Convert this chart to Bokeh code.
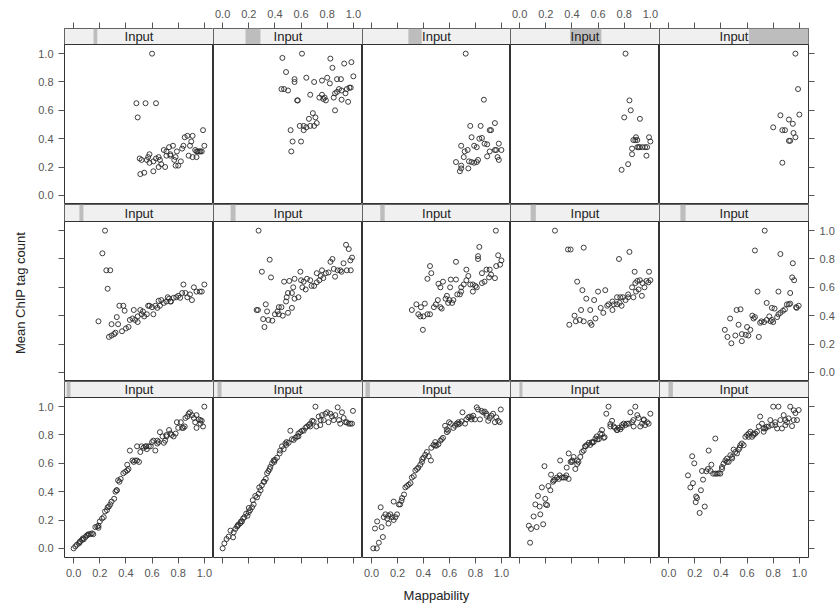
from bokeh.plotting import figure
from bokeh.layouts import gridplot
from bokeh.models import (Range1d, LinearAxis, FixedTicker, PrintfTickFormatter,
                          Span, Label, ColumnDataSource)
from bokeh.embed import file_html
from bokeh.resources import INLINE

# ---------------- data ----------------
tick_values = [0.0, 0.2, 0.4, 0.6, 0.8, 1.0]
strip_text = "Input"
x_title = "Mappability"
y_title = "Mean ChIP tag count"

# (mappability, mean ChIP tag count) per panel, rows top -> bottom, columns left -> right
top_1 = [(0.60,1.00),(0.48,0.65),(0.55,0.65),(0.63,0.65),(0.49,0.55),(0.505,0.26),(0.52,0.25),(0.51,0.15),(0.54,0.16),(0.58,0.23),(0.58,0.29),(0.61,0.17),(0.63,0.26),(0.65,0.27),(0.66,0.25),(0.67,0.22),(0.69,0.32),(0.70,0.20),(0.71,0.31),(0.73,0.34),(0.74,0.28),(0.76,0.35),(0.77,0.25),(0.78,0.27),(0.79,0.31),(0.80,0.21),(0.82,0.24),(0.83,0.33),(0.84,0.35),(0.85,0.41),(0.87,0.42),(0.88,0.28),(0.89,0.35),(0.90,0.38),(0.91,0.42),(0.91,0.27),(0.93,0.32),(0.94,0.27),(0.95,0.31),(0.96,0.31),(0.97,0.31),(0.98,0.31),(0.99,0.46),(1.00,0.35),(0.56,0.25),(0.57,0.27),(0.61,0.24),(0.65,0.20),(0.71,0.28),(0.74,0.29),(0.78,0.21),(0.94,0.31)]
top_2 = [(0.607,1.00),(0.457,0.97),(0.824,0.965),(0.485,0.87),(0.93,0.93),(0.985,0.94),(0.84,0.90),(0.55,0.82),(0.64,0.83),(0.70,0.80),(0.76,0.81),(0.80,0.83),(0.82,0.79),(0.875,0.82),(0.905,0.82),(1.00,0.84),(0.45,0.75),(0.47,0.75),(0.50,0.74),(0.55,0.80),(0.57,0.67),(0.575,0.67),(0.67,0.71),(0.74,0.69),(0.76,0.71),(0.78,0.69),(0.79,0.67),(0.77,0.68),(0.85,0.69),(0.86,0.72),(0.875,0.73),(0.89,0.75),(0.91,0.74),(0.94,0.72),(0.95,0.75),(0.97,0.76),(0.98,0.76),(0.91,0.675),(0.96,0.66),(0.86,0.60),(0.69,0.58),(0.71,0.55),(0.66,0.54),(0.72,0.51),(0.70,0.49),(0.67,0.49),(0.64,0.48),(0.62,0.49),(0.59,0.49),(0.62,0.46),(0.52,0.46),(0.535,0.38),(0.60,0.38),(0.525,0.31)]
top_3 = [(0.725,1.00),(0.865,0.675),(0.76,0.49),(0.84,0.49),(0.91,0.46),(0.92,0.46),(0.95,0.51),(0.77,0.41),(0.83,0.40),(0.85,0.405),(0.87,0.365),(0.89,0.36),(0.79,0.35),(0.81,0.34),(0.69,0.35),(0.98,0.365),(0.717,0.31),(0.74,0.32),(0.71,0.27),(0.89,0.275),(0.91,0.31),(0.95,0.32),(0.96,0.32),(1.00,0.32),(0.97,0.27),(0.98,0.25),(0.75,0.24),(0.77,0.235),(0.79,0.23),(0.81,0.235),(0.82,0.25),(0.65,0.235),(0.69,0.21),(0.68,0.17),(0.69,0.19),(0.745,0.19)]
top_4 = [(0.81,1.00),(0.84,0.67),(0.85,0.60),(0.80,0.55),(0.92,0.54),(0.885,0.39),(0.90,0.39),(0.86,0.33),(0.86,0.29),(0.90,0.34),(0.91,0.34),(0.92,0.34),(0.94,0.34),(0.96,0.34),(0.99,0.41),(1.00,0.38),(0.975,0.34),(0.97,0.28),(0.78,0.18),(0.83,0.22),(0.87,0.39),(0.89,0.41)]
top_5 = [(0.97,1.00),(0.99,0.75),(0.855,0.565),(0.92,0.535),(0.95,0.505),(1.00,0.57),(0.80,0.48),(0.87,0.46),(0.89,0.46),(0.955,0.44),(0.97,0.41),(0.92,0.385),(0.93,0.385),(0.87,0.23)]

mid_1 = [(0.24,1.00),(0.22,0.84),(0.25,0.72),(0.28,0.72),(0.26,0.59),(0.19,0.36),(0.27,0.25),(0.29,0.26),(0.31,0.27),(0.32,0.28),(0.29,0.34),(0.33,0.39),(0.35,0.47),(0.38,0.47),(0.39,0.435),(0.34,0.34),(0.37,0.29),(0.40,0.31),(0.42,0.32),(0.43,0.37),(0.45,0.38),(0.47,0.37),(0.49,0.395),(0.51,0.44),(0.49,0.355),(0.52,0.41),(0.54,0.395),(0.56,0.41),(0.58,0.47),(0.60,0.46),(0.61,0.41),(0.625,0.47),(0.64,0.455),(0.66,0.47),(0.67,0.51),(0.69,0.49),(0.71,0.50),(0.73,0.52),(0.745,0.50),(0.765,0.526),(0.785,0.53),(0.80,0.54),(0.815,0.526),(0.84,0.62),(0.83,0.56),(0.855,0.56),(0.87,0.53),(0.89,0.55),(0.905,0.51),(0.92,0.60),(0.94,0.57),(0.965,0.57),(0.98,0.57),(1.00,0.62),(0.57,0.47),(0.46,0.44),(0.53,0.43),(0.65,0.505),(0.72,0.53),(0.74,0.50)]
mid_2 = [(0.275,1.00),(0.36,0.795),(0.30,0.71),(0.37,0.67),(0.26,0.44),(0.27,0.44),(0.33,0.48),(0.34,0.43),(0.31,0.376),(0.35,0.37),(0.38,0.365),(0.32,0.32),(0.40,0.41),(0.42,0.43),(0.43,0.46),(0.45,0.46),(0.43,0.41),(0.46,0.40),(0.50,0.42),(0.53,0.455),(0.485,0.50),(0.50,0.56),(0.47,0.64),(0.51,0.645),(0.55,0.66),(0.53,0.56),(0.55,0.52),(0.58,0.53),(0.595,0.71),(0.60,0.65),(0.62,0.64),(0.61,0.60),(0.635,0.585),(0.645,0.66),(0.67,0.65),(0.68,0.61),(0.70,0.61),(0.72,0.70),(0.72,0.635),(0.74,0.65),(0.76,0.72),(0.77,0.665),(0.79,0.70),(0.81,0.705),(0.825,0.78),(0.84,0.80),(0.85,0.73),(0.86,0.675),(0.88,0.72),(0.90,0.72),(0.91,0.71),(0.925,0.77),(0.944,0.90),(0.965,0.87),(0.977,0.79),(0.99,0.81),(0.95,0.72),(0.98,0.72),(0.54,0.60),(0.49,0.53),(0.75,0.68)]
mid_3 = [(0.957,1.00),(0.83,0.885),(0.82,0.82),(0.82,0.80),(0.975,0.826),(1.00,0.79),(0.99,0.76),(0.96,0.75),(0.65,0.78),(0.45,0.75),(0.46,0.70),(0.43,0.66),(0.73,0.725),(0.85,0.70),(0.885,0.725),(0.91,0.725),(0.92,0.69),(0.905,0.67),(0.95,0.665),(0.87,0.64),(0.85,0.63),(0.745,0.68),(0.73,0.65),(0.71,0.62),(0.76,0.62),(0.78,0.62),(0.80,0.61),(0.81,0.60),(0.78,0.57),(0.61,0.655),(0.65,0.655),(0.55,0.64),(0.515,0.625),(0.53,0.60),(0.605,0.60),(0.69,0.60),(0.69,0.57),(0.68,0.55),(0.66,0.55),(0.58,0.54),(0.57,0.52),(0.60,0.51),(0.63,0.51),(0.62,0.49),(0.59,0.49),(0.51,0.51),(0.495,0.48),(0.48,0.46),(0.41,0.485),(0.38,0.46),(0.345,0.48),(0.31,0.44),(0.54,0.45),(0.53,0.46),(0.36,0.41),(0.375,0.395),(0.40,0.395),(0.43,0.41),(0.45,0.41),(0.395,0.30)]
mid_4 = [(0.27,1.00),(0.37,0.867),(0.39,0.867),(0.49,0.88),(0.44,0.64),(0.48,0.58),(0.51,0.52),(0.38,0.336),(0.43,0.36),(0.42,0.40),(0.47,0.44),(0.46,0.37),(0.49,0.36),(0.54,0.35),(0.58,0.38),(0.54,0.44),(0.57,0.51),(0.60,0.57),(0.655,0.58),(0.55,0.335),(0.62,0.455),(0.64,0.42),(0.67,0.47),(0.68,0.48),(0.71,0.50),(0.72,0.48),(0.745,0.53),(0.77,0.53),(0.79,0.53),(0.81,0.51),(0.83,0.55),(0.86,0.60),(0.885,0.63),(0.90,0.645),(0.92,0.65),(0.94,0.63),(0.955,0.60),(0.99,0.71),(1.00,0.65),(0.76,0.80),(0.84,0.85),(0.88,0.71),(0.71,0.44),(0.745,0.48),(0.765,0.49),(0.78,0.47),(0.83,0.53),(0.89,0.57),(0.91,0.585),(0.935,0.54),(0.87,0.53),(0.97,0.645),(0.985,0.635)]
mid_5 = [(0.735,1.00),(0.66,0.86),(0.855,0.835),(0.95,0.77),(0.945,0.67),(0.96,0.65),(0.68,0.57),(0.84,0.57),(0.93,0.56),(0.43,0.30),(0.47,0.38),(0.52,0.44),(0.55,0.445),(0.535,0.336),(0.45,0.25),(0.48,0.205),(0.51,0.26),(0.56,0.22),(0.56,0.27),(0.59,0.265),(0.60,0.32),(0.625,0.30),(0.61,0.26),(0.69,0.25),(0.64,0.40),(0.65,0.38),(0.66,0.39),(0.70,0.35),(0.71,0.36),(0.73,0.355),(0.75,0.37),(0.77,0.395),(0.78,0.36),(0.79,0.37),(0.80,0.355),(0.75,0.49),(0.79,0.455),(0.81,0.45),(0.83,0.39),(0.84,0.41),(0.855,0.42),(0.875,0.435),(0.89,0.445),(0.905,0.48),(0.92,0.48),(0.93,0.485),(0.98,0.455),(0.995,0.47),(0.975,0.46)]

bot_1 = [(0.00,0.00),(0.013,0.014),(0.025,0.026),(0.04,0.035),(0.05,0.05),(0.064,0.06),(0.077,0.064),(0.09,0.08),(0.10,0.09),(0.115,0.10),(0.13,0.10),(0.14,0.106),(0.15,0.10),(0.166,0.15),(0.18,0.154),(0.19,0.16),(0.20,0.19),(0.217,0.21),(0.23,0.22),(0.24,0.26),(0.255,0.27),(0.27,0.295),(0.28,0.31),(0.29,0.33),(0.31,0.35),(0.32,0.40),(0.33,0.41),(0.34,0.48),(0.35,0.47),(0.36,0.49),(0.38,0.53),(0.395,0.54),(0.41,0.59),(0.42,0.56),(0.43,0.69),(0.45,0.62),(0.46,0.61),(0.47,0.62),(0.485,0.72),(0.50,0.61),(0.51,0.68),(0.52,0.72),(0.535,0.71),(0.55,0.72),(0.56,0.70),(0.575,0.72),(0.59,0.72),(0.60,0.75),(0.61,0.76),(0.625,0.69),(0.64,0.76),(0.65,0.75),(0.66,0.82),(0.68,0.79),(0.69,0.745),(0.70,0.76),(0.71,0.79),(0.73,0.835),(0.74,0.81),(0.75,0.80),(0.765,0.79),(0.78,0.81),(0.79,0.89),(0.80,0.85),(0.82,0.89),(0.83,0.85),(0.84,0.85),(0.855,0.92),(0.87,0.93),(0.88,0.95),(0.89,0.96),(0.905,0.94),(0.92,0.92),(0.93,0.89),(0.94,0.85),(0.957,0.91),(0.97,0.88),(0.98,0.90),(0.99,0.86),(1.00,1.00),(0.046,0.043),(0.07,0.07),(0.107,0.095),(0.19,0.145),(0.26,0.29),(0.33,0.41),(0.41,0.55),(0.485,0.62),(0.556,0.72),(0.64,0.74),(0.71,0.80),(0.85,0.86),(0.94,0.94),(0.97,0.905)]
bot_2 = [(0.00,0.00),(0.013,0.035),(0.03,0.066),(0.046,0.083),(0.06,0.125),(0.08,0.078),(0.097,0.137),(0.11,0.154),(0.12,0.168),(0.135,0.177),(0.148,0.19),(0.156,0.21),(0.166,0.22),(0.18,0.245),(0.19,0.23),(0.20,0.255),(0.21,0.27),(0.225,0.29),(0.237,0.31),(0.25,0.37),(0.263,0.36),(0.275,0.385),(0.29,0.41),(0.30,0.445),(0.314,0.47),(0.33,0.49),(0.34,0.53),(0.35,0.545),(0.365,0.575),(0.378,0.60),(0.39,0.62),(0.40,0.625),(0.416,0.64),(0.44,0.69),(0.454,0.72),(0.467,0.70),(0.48,0.74),(0.49,0.75),(0.505,0.745),(0.518,0.83),(0.53,0.77),(0.543,0.765),(0.556,0.78),(0.57,0.79),(0.58,0.81),(0.594,0.82),(0.607,0.83),(0.62,0.83),(0.633,0.85),(0.645,0.86),(0.66,0.87),(0.67,0.88),(0.685,0.90),(0.696,0.895),(0.71,1.00),(0.717,0.86),(0.735,0.93),(0.747,0.87),(0.76,0.94),(0.773,0.905),(0.786,0.95),(0.80,0.96),(0.81,0.89),(0.824,0.95),(0.837,0.93),(0.85,0.905),(0.862,0.94),(0.88,0.995),(0.89,0.905),(0.90,0.88),(0.913,0.96),(0.926,0.92),(0.94,0.89),(0.95,0.89),(0.964,0.88),(0.977,0.88),(0.99,0.88),(0.997,0.97),(0.084,0.113),(0.115,0.16),(0.14,0.19),(0.20,0.285),(0.23,0.34),(0.28,0.43),(0.318,0.47),(0.36,0.56),(0.395,0.61),(0.436,0.67),(0.487,0.73),(0.58,0.79),(0.67,0.86),(0.75,0.905)]
bot_3 = [(0.013,0.00),(0.04,0.00),(0.056,0.04),(0.087,0.08),(0.026,0.14),(0.043,0.19),(0.077,0.15),(0.07,0.29),(0.094,0.22),(0.107,0.24),(0.12,0.21),(0.13,0.23),(0.145,0.24),(0.158,0.22),(0.17,0.20),(0.184,0.22),(0.196,0.24),(0.13,0.175),(0.17,0.33),(0.21,0.31),(0.22,0.31),(0.235,0.355),(0.25,0.38),(0.26,0.43),(0.286,0.45),(0.30,0.46),(0.31,0.50),(0.325,0.51),(0.337,0.55),(0.36,0.57),(0.375,0.59),(0.39,0.63),(0.40,0.64),(0.413,0.66),(0.426,0.68),(0.44,0.65),(0.457,0.62),(0.46,0.71),(0.477,0.73),(0.49,0.75),(0.50,0.725),(0.515,0.735),(0.53,0.76),(0.54,0.77),(0.55,0.78),(0.566,0.865),(0.58,0.84),(0.59,0.83),(0.597,0.89),(0.61,0.88),(0.63,0.85),(0.643,0.865),(0.656,0.88),(0.668,0.89),(0.68,0.88),(0.694,0.896),(0.70,0.96),(0.72,0.88),(0.73,0.91),(0.745,0.925),(0.757,0.93),(0.77,0.91),(0.783,0.936),(0.796,0.91),(0.81,0.995),(0.82,0.98),(0.835,0.91),(0.847,0.97),(0.86,0.96),(0.872,0.965),(0.885,0.936),(0.898,0.90),(0.91,0.92),(0.923,0.936),(0.936,0.95),(0.95,0.89),(0.96,0.925),(0.975,0.90),(0.987,0.89),(0.995,0.98),(0.23,0.335),(0.273,0.44),(0.35,0.56),(0.388,0.61),(0.49,0.725),(0.58,0.82),(0.668,0.875),(0.77,0.925),(0.885,0.95)]
bot_4 = [(0.08,0.04),(0.07,0.16),(0.087,0.137),(0.107,0.225),(0.13,0.15),(0.12,0.31),(0.14,0.37),(0.153,0.295),(0.158,0.24),(0.18,0.17),(0.17,0.43),(0.19,0.58),(0.20,0.31),(0.21,0.305),(0.22,0.44),(0.235,0.41),(0.24,0.52),(0.255,0.47),(0.27,0.485),(0.286,0.50),(0.30,0.49),(0.31,0.62),(0.324,0.50),(0.337,0.50),(0.35,0.50),(0.36,0.57),(0.375,0.49),(0.375,0.67),(0.39,0.61),(0.40,0.61),(0.413,0.645),(0.426,0.56),(0.44,0.62),(0.45,0.61),(0.464,0.645),(0.477,0.68),(0.49,0.69),(0.50,0.72),(0.515,0.73),(0.53,0.745),(0.54,0.73),(0.553,0.75),(0.566,0.75),(0.58,0.775),(0.59,0.79),(0.605,0.77),(0.617,0.81),(0.63,0.835),(0.643,0.78),(0.65,0.785),(0.663,0.95),(0.68,1.00),(0.694,0.877),(0.707,0.90),(0.72,0.86),(0.73,0.85),(0.745,0.835),(0.758,0.85),(0.77,0.84),(0.783,0.855),(0.796,0.88),(0.81,0.87),(0.82,0.88),(0.834,0.88),(0.847,0.96),(0.86,0.89),(0.872,0.86),(0.885,1.00),(0.90,0.94),(0.91,0.92),(0.923,0.86),(0.936,0.88),(0.95,0.905),(0.96,0.87),(0.975,0.89),(0.987,0.88),(1.00,0.95),(0.196,0.35),(0.26,0.48),(0.306,0.515),(0.357,0.515),(0.403,0.62),(0.44,0.595),(0.505,0.72),(0.556,0.745),(0.594,0.77),(0.63,0.805),(0.694,0.86),(0.745,0.835),(0.783,0.87),(0.87,0.905),(0.95,0.91)]
bot_5 = [(0.148,0.515),(0.18,0.65),(0.196,0.60),(0.166,0.43),(0.186,0.46),(0.21,0.366),(0.217,0.355),(0.207,0.326),(0.237,0.25),(0.247,0.41),(0.263,0.485),(0.255,0.546),(0.276,0.295),(0.288,0.544),(0.30,0.56),(0.306,0.69),(0.32,0.546),(0.327,0.59),(0.34,0.527),(0.357,0.775),(0.357,0.527),(0.37,0.527),(0.383,0.53),(0.395,0.527),(0.408,0.574),(0.42,0.598),(0.434,0.62),(0.446,0.634),(0.459,0.61),(0.472,0.657),(0.485,0.634),(0.497,0.697),(0.51,0.68),(0.523,0.67),(0.536,0.697),(0.548,0.728),(0.56,0.74),(0.574,0.728),(0.587,0.787),(0.60,0.80),(0.612,0.81),(0.625,0.823),(0.638,0.787),(0.65,0.80),(0.663,0.81),(0.676,0.823),(0.69,0.86),(0.70,0.93),(0.714,0.88),(0.727,0.823),(0.74,0.846),(0.75,0.858),(0.765,0.86),(0.778,0.905),(0.79,0.87),(0.80,1.00),(0.816,0.89),(0.83,0.846),(0.84,1.00),(0.855,0.905),(0.867,0.846),(0.88,0.94),(0.893,0.87),(0.906,0.89),(0.918,0.917),(0.93,1.00),(0.944,0.863),(0.957,0.974),(0.97,0.955),(0.982,0.905),(0.995,0.976),(0.408,0.56),(0.446,0.61),(0.485,0.645),(0.543,0.71),(0.612,0.787),(0.65,0.81),(0.727,0.846),(0.816,0.87),(0.893,0.905),(0.957,0.905)]

panel_rows = [[top_1, top_2, top_3, top_4, top_5],
              [mid_1, mid_2, mid_3, mid_4, mid_5],
              [bot_1, bot_2, bot_3, bot_4, bot_5]]

# conditioning-variable interval of each panel (fraction of its full range)
shingle_top = [(0.195, 0.22), (0.215, 0.315), (0.31, 0.40), (0.40, 0.61), (0.60, 1.00)]
shingle_mid = [(0.10, 0.127), (0.115, 0.148), (0.12, 0.15), (0.135, 0.17), (0.14, 0.175)]
shingle_bot = [(0.015, 0.04), (0.027, 0.054), (0.02, 0.05), (0.06, 0.08), (0.06, 0.09)]
shingle_rows = [shingle_top, shingle_mid, shingle_bot]

# ---------------- layout ----------------
col_w = [149, 149, 148, 149, 149]
row_h = [176, 177, 176]
PANEL_PX = 160
LEFT, RIGHT, TOP, BOTTOM = 64, 31, 28, 53
PAD_X = 0.07
PAD_Y = 0.0645
FONT = "Liberation Sans"
TICK_COL = "#555555"
LINE_COL = "#333333"


def make_axis(show_labels, title=None, title_standoff=8):
    ax = LinearAxis(ticker=FixedTicker(ticks=tick_values),
                    formatter=PrintfTickFormatter(format="%.1f"))
    ax.axis_line_color = None
    ax.major_tick_out = 6
    ax.major_tick_in = 0
    ax.major_tick_line_color = TICK_COL
    ax.minor_tick_line_color = None
    ax.major_label_text_font = FONT
    ax.major_label_text_font_size = "11px"
    ax.major_label_text_color = TICK_COL
    ax.major_label_standoff = 5
    ax.major_label_text_alpha = 1.0 if show_labels else 0.0
    if title:
        ax.axis_label = title
        ax.axis_label_text_font = FONT
        ax.axis_label_text_font_size = "13px"
        ax.axis_label_text_font_style = "normal"
        ax.axis_label_text_color = "#222222"
        ax.axis_label_standoff = title_standoff
    return ax


grid = []
for r in range(3):
    row_figs = []
    for c in range(5):
        strip_px = row_h[r] - PANEL_PX
        unit_px = PANEL_PX / (1 + 2 * PAD_Y)
        strip_bottom = 1 + PAD_Y
        y_hi = strip_bottom + strip_px / unit_px
        w = col_w[c] + (LEFT if c == 0 else 0) + (RIGHT if c == 4 else 0)
        h = row_h[r] + (TOP if r == 0 else 0) + (BOTTOM if r == 2 else 0)
        p = figure(width=w, height=h,
                   x_range=Range1d(-PAD_X, 1 + PAD_X),
                   y_range=Range1d(-PAD_Y, y_hi),
                   x_axis_location=None, y_axis_location=None,
                   toolbar_location=None, tools="", output_backend="svg")
        p.min_border = 0
        p.min_border_left = LEFT if c == 0 else 0
        p.min_border_right = RIGHT if c == 4 else 0
        p.min_border_top = TOP if r == 0 else 0
        p.min_border_bottom = BOTTOM if r == 2 else 0
        p.grid.visible = False
        p.outline_line_color = LINE_COL
        p.outline_line_width = 1
        p.background_fill_color = "white"
        p.border_fill_color = "white"
        p.extra_x_ranges = {"cond": Range1d(0, 1)}

        # strip with shingle indicator
        lo, hi = shingle_rows[r][c]
        p.quad(left=[0], right=[1], bottom=[strip_bottom], top=[y_hi],
               x_range_name="cond", fill_color="#f0f0f0", line_color=None)
        p.quad(left=[lo], right=[hi], bottom=[strip_bottom], top=[y_hi],
               x_range_name="cond", fill_color="#bdbdbd", line_color=None)
        p.add_layout(Span(location=strip_bottom, dimension="width",
                          line_color=LINE_COL, line_width=1))
        p.add_layout(Label(x=0.5, y=(strip_bottom + y_hi) / 2, x_range_name="cond",
                           text=strip_text, text_align="center", text_baseline="middle",
                           text_font=FONT, text_font_size="13px", text_color="#222222"))

        pts = panel_rows[r][c]
        src = ColumnDataSource(dict(x=[q[0] for q in pts], y=[q[1] for q in pts]))
        p.scatter(x="x", y="y", source=src, marker="circle", size=5,
                  fill_color=None, line_color="#2a2a2a", line_width=1, line_alpha=0.9)

        # lattice-style alternating axes
        if r == 0:
            p.add_layout(make_axis(c in (1, 3)), "above")
        if r == 2:
            p.add_layout(make_axis(c in (0, 2, 4), x_title if c == 2 else None), "below")
        if c == 0:
            p.add_layout(make_axis(r in (0, 2), y_title if r == 1 else None, 31), "left")
        if c == 4:
            p.add_layout(make_axis(r == 1), "right")
        row_figs.append(p)
    grid.append(row_figs)

layout = gridplot(grid, toolbar_location=None)

with open("out.html", "w") as f:
    f.write(file_html(layout, INLINE))
